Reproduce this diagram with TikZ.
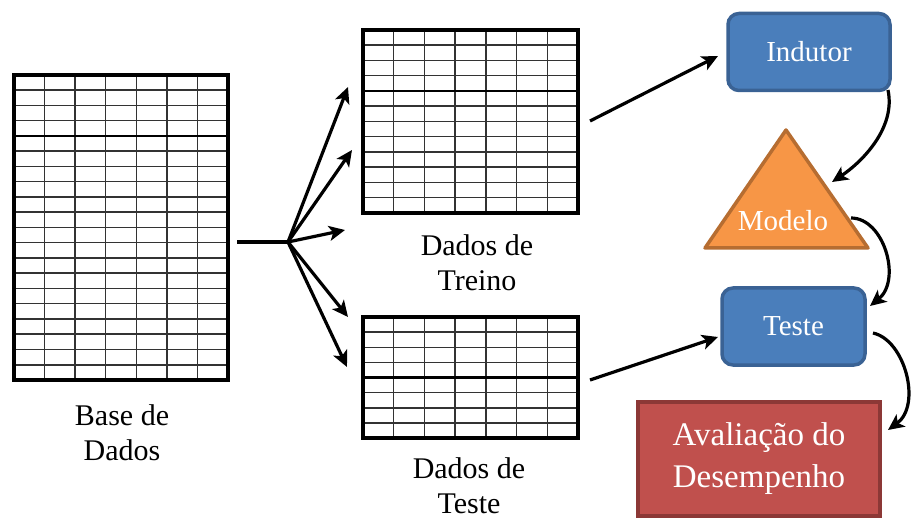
\documentclass[tikz,border=0pt]{standalone}
\usepackage{fontspec}
\setmainfont{Liberation Serif}
\usetikzlibrary{arrows.meta}

\definecolor{indblue}{HTML}{4A7EBB}
\definecolor{inddark}{HTML}{3A6294}
\definecolor{modorange}{HTML}{F79646}
\definecolor{moddark}{HTML}{B66D31}
\definecolor{avred}{HTML}{C0504D}
\definecolor{avdark}{HTML}{8C3836}

% A data table: 7 columns, #6 rows, header line after the 4th row
% #1 node name, (#2,#3) top-left corner, (#4,#5) bottom-right corner
\newcommand{\gradetabela}[6]{%
  \pgfmathsetmacro\tabcw{(#4-#2)/7}%
  \pgfmathsetmacro\tabrh{(#5-#3)/#6}%
  \pgfmathtruncatemacro\tabnl{#6-1}%
  \foreach \i in {1,...,6}
    \draw[gridline] ({#2+\i*\tabcw},#3) -- ({#2+\i*\tabcw},#5);
  \foreach \j in {1,...,\tabnl}
    \draw[gridline] (#2,{#3+\j*\tabrh}) -- (#4,{#3+\j*\tabrh});
  \draw[headline] (#2,{#3+4*\tabrh}) -- (#4,{#3+4*\tabrh});
  \node[tbl, minimum width={#4-#2}, minimum height={#5-#3}]
    (#1) at ({(#2+#4)/2},{(#3+#5)/2}) {};
}

\begin{document}
\begin{tikzpicture}[x=1pt,y=-1pt,
  arr/.style={line width=3.2pt, -{Stealth[length=16pt,width=15pt,inset=4pt]}},
  gridline/.style={line width=1.5pt, black!80},
  headline/.style={line width=2.6pt, black},
  tbl/.style={draw, line width=3.5pt, inner sep=0pt},
  lbl/.style={align=center, font=\fontsize{30}{35}\selectfont},
  bluebox/.style={draw=inddark, fill=indblue, line width=3.5pt,
    rounded corners=11pt, text=white, font=\fontsize{29}{34}\selectfont},
  redbox/.style={draw=avdark, fill=avred, line width=3.5pt, text=white,
    align=center, font=\fontsize{33}{42}\selectfont},
  tri/.style={draw=moddark, fill=modorange, line width=3.5pt, line join=round}
]
\useasboundingbox (0,0) rectangle (913,521);

% data tables
\gradetabela{base}{14}{75}{228}{380}{20}
\gradetabela{treino}{363}{30}{578}{213}{12}
\gradetabela{teste}{363}{317}{578}{438}{8}

% table captions
\node[lbl] (baselbl) at (122,433) {Base de\\Dados};
\node[lbl] (treinolbl) at (477,263) {Dados de\\Treino};
\node[lbl] (testelbl) at (469,486) {Dados de\\Teste};

% split of the data base into training and test sets
\coordinate (split) at (237,242);
\coordinate (hub) at (288,242);
\coordinate (f1) at (348,87);
\coordinate (f2) at (352,150);
\coordinate (f3) at (345,230);
\coordinate (f4) at (348,317);
\coordinate (f5) at (347,367);
\draw[line width=3.2pt] (split) -- (hub);
\foreach \f in {f1,f2,f3,f4,f5}
  \draw[arr] (hub) -- (\f);

% learning pipeline
\node[bluebox, minimum width=162pt, minimum height=77pt] (indutor) at (809,52) {Indutor};
\draw[tri] (786,130) -- (868,248) -- (705,248) -- cycle;
\node[text=white, font=\fontsize{29}{34}\selectfont] (modelo) at (783,221) {Modelo};
\node[bluebox, minimum width=143pt, minimum height=77pt] (testebox) at (793.5,326.5) {Teste};
\node[redbox, minimum width=242pt, minimum height=114pt] (aval) at (759,459)
  {Avaliação do\\Desempenho};

% connectors
\coordinate (trOut) at (590,121);
\coordinate (indIn) at (718,56);
\coordinate (teOut) at (590,380);
\coordinate (teIn) at (718,337);
\draw[arr] (trOut) -- (indIn);
\draw[arr] (teOut) -- (teIn);

\coordinate (indOut) at (888,90);
\coordinate (modIn) at (832,182);
\coordinate (modOut) at (851,218);
\coordinate (tstIn) at (870,306);
\coordinate (tstOut) at (873,333);
\coordinate (avIn) at (888,430);
\draw[arr] (indOut) .. controls (896,128) and (862,162) .. (modIn);
\draw[arr] (modOut) .. controls (884,218) and (902,280) .. (tstIn);
\draw[arr] (tstOut) .. controls (905,340) and (922,405) .. (avIn);
\end{tikzpicture}
\end{document}
